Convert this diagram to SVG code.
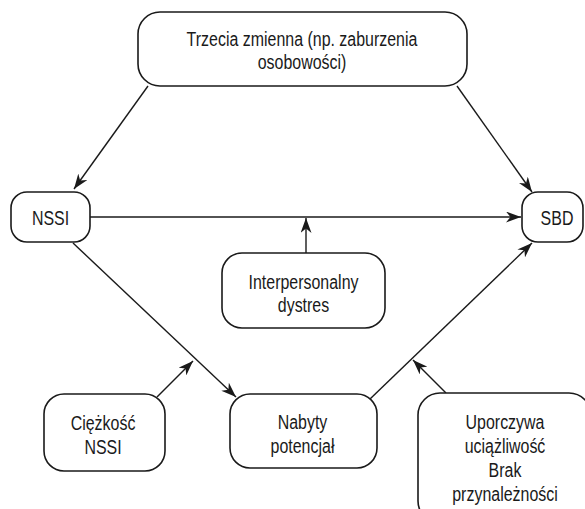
<svg xmlns="http://www.w3.org/2000/svg" width="585" height="509" viewBox="0 0 585 509">
<defs>
<style>
.box{fill:#fff;stroke:#1a1a1a;stroke-width:1.6}
.edge{fill:none;stroke:#1a1a1a;stroke-width:1.4;marker-end:url(#ah)}
.lbl{font-family:"Liberation Sans",Arial,sans-serif;font-size:21px;fill:#1a1a1a;text-anchor:middle}
</style>
<marker id="ah" markerUnits="userSpaceOnUse" markerWidth="15" markerHeight="11" refX="15" refY="5.5" orient="auto">
<path d="M0,0 L15,5.5 L0,11 L4.5,5.5 z" fill="#1a1a1a"/>
</marker>
</defs>
<rect width="585" height="509" fill="#fff"/>
<g id="connectors">
<line class="edge" x1="148" y1="86" x2="74" y2="189"/>
<line class="edge" x1="457" y1="86" x2="532" y2="192"/>
<line class="edge" x1="90" y1="217" x2="521" y2="217"/>
<line class="edge" x1="306" y1="253" x2="306" y2="218"/>
<line class="edge" x1="73" y1="243" x2="236" y2="397"/>
<line class="edge" x1="370" y1="399" x2="532" y2="243"/>
<line class="edge" x1="157" y1="397" x2="193" y2="361"/>
<line class="edge" x1="446" y1="393" x2="413" y2="360"/>
</g>
<g id="node-trzecia">
<rect class="box" x="138" y="12" width="329" height="74" rx="22"/>
<text class="lbl" transform="translate(302 46) scale(0.76 1)"><tspan x="0" y="0">Trzecia zmienna (np. zaburzenia</tspan><tspan x="0" y="23">osobowości)</tspan></text>
</g>
<g id="node-nssi">
<rect class="box" x="11" y="192" width="79" height="50" rx="16"/>
<text class="lbl" transform="translate(50.5 224.5) scale(0.76 1)">NSSI</text>
</g>
<g id="node-sbd">
<rect class="box" x="522" y="192" width="61" height="50" rx="16"/>
<text class="lbl" transform="translate(557 224.5) scale(0.76 1)">SBD</text>
</g>
<g id="node-interpersonalny">
<rect class="box" x="222" y="253" width="163" height="75" rx="20"/>
<text class="lbl" transform="translate(303.5 289) scale(0.76 1)"><tspan x="0" y="0">Interpersonalny</tspan><tspan x="0" y="23">dystres</tspan></text>
</g>
<g id="node-ciezkosc">
<rect class="box" x="44" y="394" width="121" height="77" rx="20"/>
<text class="lbl" transform="translate(103 430) scale(0.76 1)"><tspan x="0" y="0">Ciężkość</tspan><tspan x="0" y="24">NSSI</tspan></text>
</g>
<g id="node-nabyty">
<rect class="box" x="230" y="394" width="147" height="74" rx="20"/>
<text class="lbl" transform="translate(302.5 429) scale(0.76 1)"><tspan x="0" y="0">Nabyty</tspan><tspan x="0" y="24">potencjał</tspan></text>
</g>
<g id="node-uporczywa">
<rect class="box" x="418" y="393" width="173" height="130" rx="22"/>
<text class="lbl" transform="translate(505 429) scale(0.76 1)"><tspan x="0" y="0">Uporczywa</tspan><tspan x="0" y="24">uciążliwość</tspan><tspan x="0" y="48">Brak</tspan><tspan x="0" y="72">przynależności</tspan></text>
</g>
</svg>
